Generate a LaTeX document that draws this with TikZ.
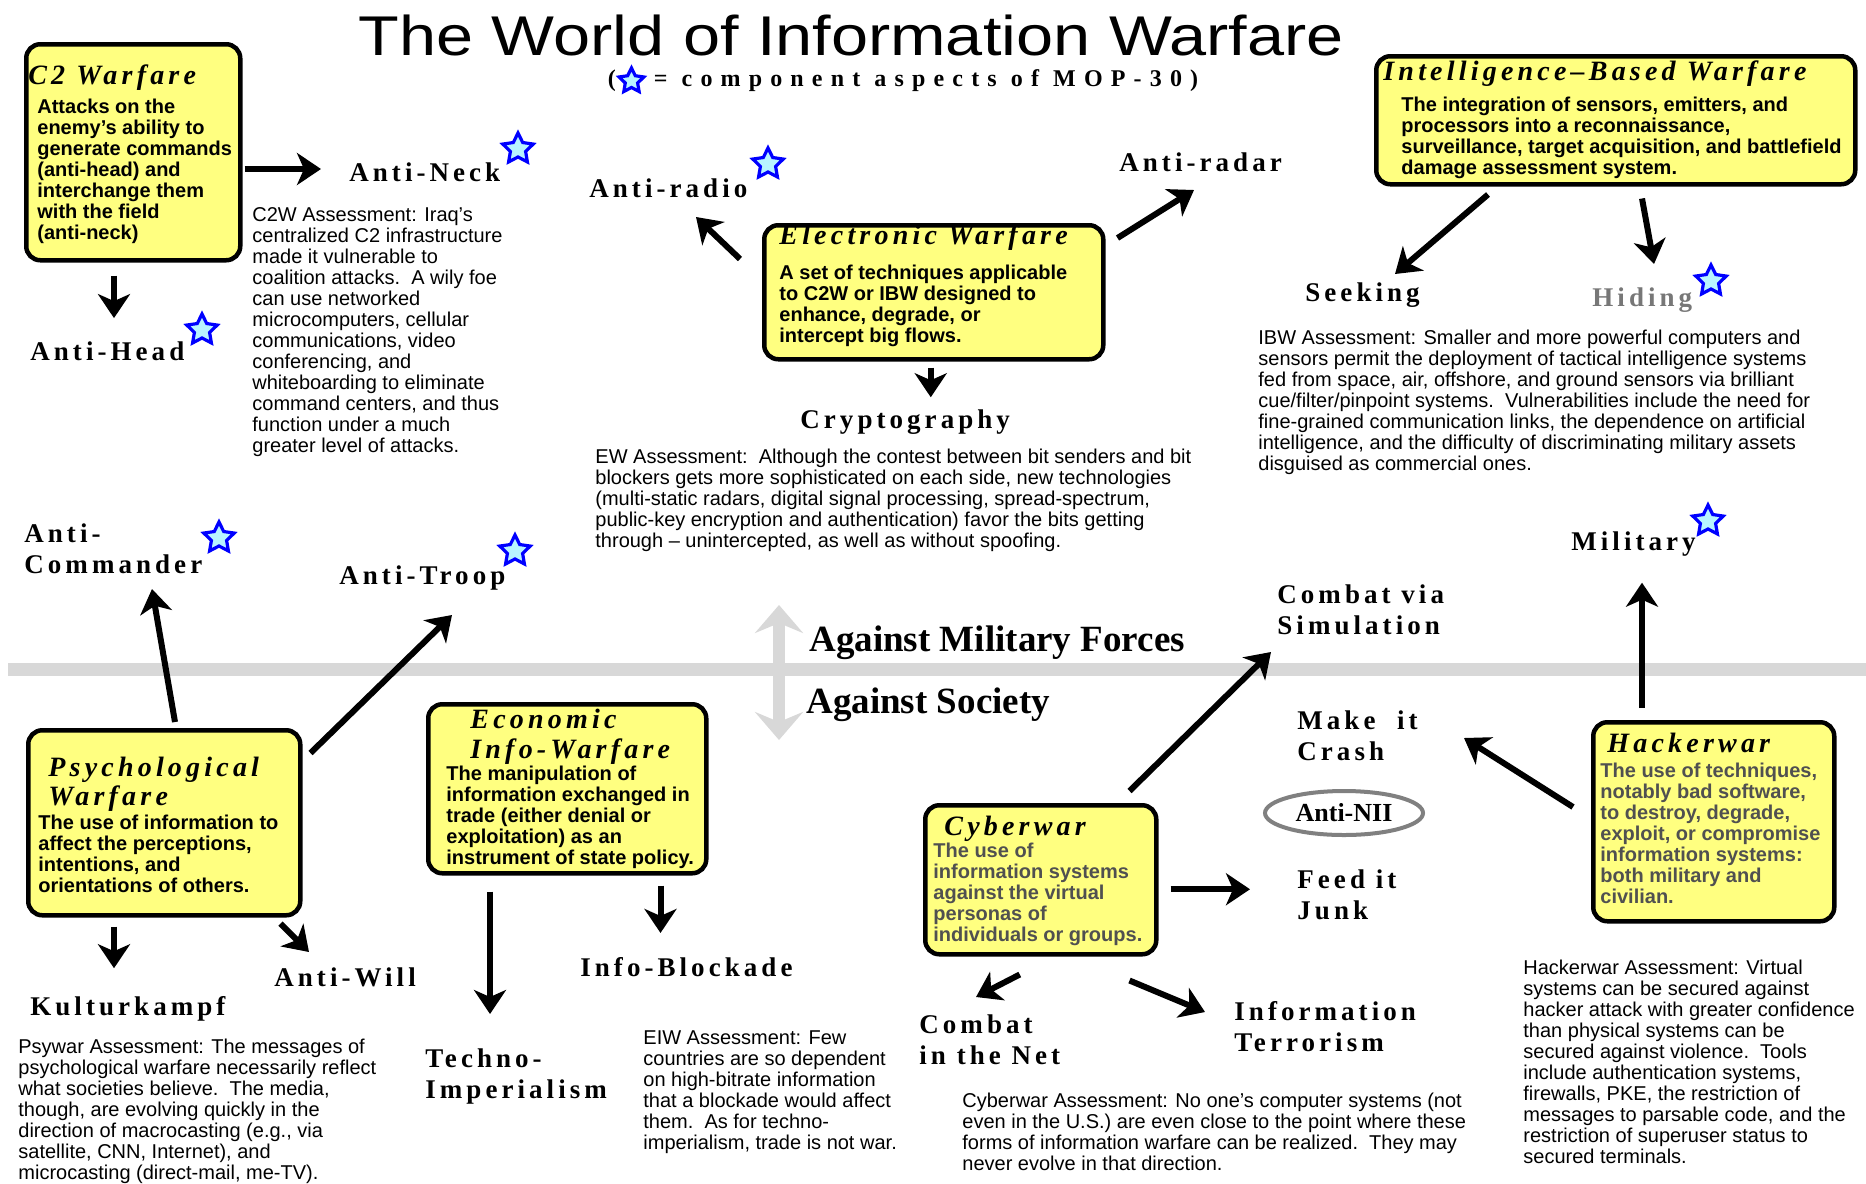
\documentclass[tikz,border=0pt]{standalone}
\usepackage{fontspec}
\setmainfont{Liberation Sans}
\newfontfamily\labfont[LetterSpace=15]{Liberation Serif}
\newfontfamily\niifont{Liberation Serif}
\newfontfamily\boxtfont[LetterSpace=15]{Liberation Serif}
\newfontfamily\subfont[LetterSpace=34]{Liberation Serif}
\newfontfamily\bigtitlefont[FakeStretch=1.19]{Liberation Sans}
\usetikzlibrary{arrows.meta,shapes.geometric,calc}
\definecolor{boxyellow}{HTML}{FFFF80}
\definecolor{starcyan}{HTML}{B8F4FF}
\definecolor{bandgray}{HTML}{D8D8D8}
\definecolor{softgray}{HTML}{505050}
\definecolor{hidegray}{HTML}{777777}
\begin{document}
\begin{tikzpicture}[x=0.5pt,y=-0.5pt,
  wbox/.style={draw=black, line width=2.25pt, fill=boxyellow, rounded corners=7pt, anchor=north west, inner sep=0},
  btitle/.style={font=\boxtfont\bfseries\itshape\fontsize{14}{14.5}\selectfont, inner sep=0, align=left},
  bbody/.style={font=\bfseries\fontsize{10}{10.5}\selectfont, inner sep=0, align=left, anchor=north west},
  assess/.style={font=\fontsize{10}{10.5}\selectfont, inner sep=0, align=left, anchor=north west},
  lab/.style={font=\labfont\bfseries\fontsize{13.5}{15.5}\selectfont, inner sep=0, align=left},
  comp/.style={star, star points=5, star point ratio=2, draw=blue, fill=starcyan, line width=1.6pt, minimum size=16pt, inner sep=0},
  arr/.style={draw=black, line width=3pt, -{Stealth[length=12pt,width=16pt,inset=3.5pt]}},
  sidelab/.style={font=\niifont\bfseries\fontsize{18.5}{20}\selectfont, anchor=west, inner sep=0},
]
\fill[white] (0,0) rectangle (1866,1183);
\useasboundingbox (0,0) rectangle (1866,1183);

% band and double arrow
\coordinate (bandL) at (8,669);
\coordinate (bandR) at (1866,669);
\draw[line width=6.5pt, bandgray] (bandL) -- (bandR);
\coordinate (dtop) at (779,605);
\coordinate (dbot) at (779,740);
\draw[line width=6pt, draw=bandgray, {Stealth[length=14pt,width=24pt,inset=5pt]}-{Stealth[length=14pt,width=24pt,inset=5pt]}] (dtop) -- (dbot);
\node[sidelab] (amf) at (809,643) {Against Military Forces};
\node[sidelab] (aso) at (806,705) {Against Society};

% title
\node[font=\bigtitlefont\fontsize{28}{30}\selectfont, anchor=base, inner sep=0] (title) at (851,55) {The World of Information Warfare};
\node[font=\subfont\bfseries\fontsize{12}{13}\selectfont, inner sep=0] (subtitle) at (903,81) {(\hspace{19pt}= component aspects of MOP-30)};
\node[comp, minimum size=13pt] (substar) at ($(subtitle.west)+(24,0)$) {};

% boxes
\node[wbox, minimum width=107pt, minimum height=108pt] (c2) at (24,42) {};
\node[wbox, minimum width=169.5pt, minimum height=67pt] (ew) at (762,223) {};
\node[wbox, minimum width=239.5pt, minimum height=64pt] (ibw) at (1374,54) {};
\node[wbox, minimum width=136pt, minimum height=92.5pt] (psy) at (26,728) {};
\node[wbox, minimum width=139pt, minimum height=84.5pt] (eco) at (426,702) {};
\node[wbox, minimum width=115.5pt, minimum height=74.5pt] (cyb) at (923,803) {};
\node[wbox, minimum width=120.5pt, minimum height=99.5pt] (hck) at (1591,720) {};

% box titles
\node[btitle, anchor=west] (c2t) at (28,78) {C2 Warfare};
\node[btitle, anchor=west] (ewt) at (779,238) {Electronic Warfare};
\node[btitle, anchor=west] (ibwt) at (1383,74) {Intelligence–Based Warfare};
\node[btitle, anchor=north west] (psyt) at (48,757) {Psychological\\Warfare};
\node[btitle, anchor=north west, font=\boxtfont\bfseries\itshape\fontsize{14}{15}\selectfont] (ecot) at (470,709) {Economic\\Info-Warfare};
\node[btitle, anchor=west] (cybt) at (944,829) {Cyberwar};
\node[btitle, anchor=west] (hckt) at (1607,743) {Hackerwar};

% box bodies
\node[bbody] (c2b) at (37,99) {Attacks on the\\enemy's ability to\\generate commands\\(anti-head) and\\interchange them\\with the field\\(anti-neck)};
\node[bbody] (ewb) at (779,265) {A set of techniques applicable\\to C2W or IBW designed to\\enhance, degrade, or\\intercept big flows.};
\node[bbody] (ibwb) at (1401,97) {The integration of sensors, emitters, and\\processors into a reconnaissance,\\surveillance, target acquisition, and battlefield\\damage assessment system.};
\node[bbody] (psyb) at (38,815) {The use of information to\\affect the perceptions,\\intentions, and\\orientations of others.};
\node[bbody] (ecob) at (446,766) {The manipulation of\\information exchanged in\\trade (either denial or\\exploitation) as an\\instrument of state policy.};
\node[bbody, text=softgray] (cybb) at (933,843) {The use of\\information systems\\against the virtual\\personas of\\individuals or groups.};
\node[bbody, text=softgray] (hckb) at (1600,763) {The use of techniques,\\notably bad software,\\to destroy, degrade,\\exploit, or compromise\\information systems:\\both military and\\civilian.};

% assessments
\node[assess] (c2wa) at (252,207) {C2W Assessment: Iraq's\\centralized C2 infrastructure\\made it vulnerable to\\coalition attacks.\ \ A wily foe\\can use networked\\microcomputers, cellular\\communications, video\\conferencing, and\\whiteboarding to eliminate\\command centers, and thus\\function under a much\\greater level of attacks.};
\node[assess] (ewa) at (595,449) {EW Assessment:\ \ Although the contest between bit senders and bit\\blockers gets more sophisticated on each side, new technologies\\(multi-static radars, digital signal processing, spread-spectrum,\\public-key encryption and authentication) favor the bits getting\\through – unintercepted, as well as without spoofing.};
\node[assess] (ibwa) at (1258,330) {IBW Assessment: Smaller and more powerful computers and\\sensors permit the deployment of tactical intelligence systems\\fed from space, air, offshore, and ground sensors via brilliant\\cue/filter/pinpoint systems.\ \ Vulnerabilities include the need for\\fine-grained communication links, the dependence on artificial\\intelligence, and the difficulty of discriminating military assets\\disguised as commercial ones.};
\node[assess] (psya) at (18,1039) {Psywar Assessment: The messages of\\psychological warfare necessarily reflect\\what societies believe.\ \ The media,\\though, are evolving quickly in the\\direction of macrocasting (e.g., via\\satellite, CNN, Internet), and\\microcasting (direct-mail, me-TV).};
\node[assess] (eiwa) at (643,1030) {EIW Assessment: Few\\countries are so dependent\\on high-bitrate information\\that a blockade would affect\\them.\ \ As for techno-\\imperialism, trade is not war.};
\node[assess] (cyba) at (962,1093) {Cyberwar Assessment: No one's computer systems (not\\even in the U.S.) are even close to the point where these\\forms of information warfare can be realized.\ \ They may\\never evolve in that direction.};
\node[assess] (hcka) at (1523,960) {Hackerwar Assessment: Virtual\\systems can be secured against\\hacker attack with greater confidence\\than physical systems can be\\secured against violence.\ \ Tools\\include authentication systems,\\firewalls, PKE, the restriction of\\messages to parsable code, and the\\restriction of superuser status to\\secured terminals.};

% labels
\node[lab, anchor=west] (antineck) at (349,172) {Anti-Neck};
\node[lab, anchor=west] (antihead) at (30,351) {Anti-Head};
\node[lab, anchor=west] (antiradio) at (589,188) {Anti-radio};
\node[lab, anchor=west] (antiradar) at (1119,162) {Anti-radar};
\node[lab, anchor=west] (crypto) at (800,422) {Cryptography};
\node[lab, anchor=west] (seeking) at (1305,295) {Seeking};
\node[lab, anchor=west, text=hidegray] (hiding) at (1592,300) {Hiding};
\node[lab, anchor=north west] (anticmd) at (24,523) {Anti-\\Commander};
\node[lab, anchor=west] (antitroop) at (339,578) {Anti-Troop};
\node[lab, anchor=west] (military) at (1571,544) {Military};
\node[lab, anchor=west] (kultur) at (30,1009) {Kulturkampf};
\node[lab, anchor=west] (antiwill) at (274,977) {Anti-Will};
\node[lab, anchor=north west] (techno) at (425,1048) {Techno-\\Imperialism};
\node[lab, anchor=west] (infoblk) at (580,967) {Info-Blockade};
\node[lab, anchor=north west] (combatsim) at (1277,584) {Combat via\\Simulation};
\node[lab, anchor=north west] (makecrash) at (1297,710) {Make\ \ it\\Crash};
\node[ellipse, draw=gray, line width=2pt, minimum width=79pt, minimum height=22pt, font=\niifont\bfseries\fontsize{13}{14}\selectfont, inner sep=0] (antinii) at (1344,813) {Anti-NII};
\node[lab, anchor=north west] (feedjunk) at (1297,869) {Feed it\\Junk};
\node[lab, anchor=north west] (combatnet) at (919,1014) {Combat\\in the Net};
\node[lab, anchor=north west] (infoterror) at (1234,1001) {Information\\Terrorism};

% stars
\node[comp] (s1) at (518,149) {};
\node[comp] (s2) at (202,330) {};
\node[comp] (s3) at (768,164) {};
\node[comp] (s4) at (1711,281) {};
\node[comp] (s5) at (219,538) {};
\node[comp] (s6) at (515,551) {};
\node[comp] (s7) at (1708,521) {};

% arrows
\coordinate (a1) at ($(c2.north east)+(2,127)$);
\draw[arr, shorten >=14pt] (a1) -- (a1 -| antineck.west);
\coordinate (a2) at ($(c2.south west)+(90,13)$);
\draw[arr, shorten >=11.5pt] (a2) -- (a2 |- antihead.north);
\draw[arr] ($(ew.north west)+(-22,36)$) -- ($(antiradio.west)+(107,29)$);
\draw[arr] ($(ew.north east)+(12,15)$) -- ($(antiradar.west)+(75,28)$);
\coordinate (a5) at ($(ew.south)+(-3,6)$);
\draw[arr, shorten >=6pt] (a5) -- (a5 |- crypto.north);
\draw[arr] ($(ibw.south west)+(114,8)$) -- ($(seeking.west)+(90,-21)$);
\draw[arr] ($(ibw.south west)+(268,12)$) -- ($(hiding.west)+(62,-36)$);
\draw[arr] ($(psy.north west)+(149,-6)$) -- ($(anticmd.north west)+(128,66)$);
\draw[arr] ($(psy.north east)+(8,25)$) -- ($(antitroop.west)+(113,37)$);
\coordinate (a10) at ($(psy.south west)+(88,9)$);
\draw[arr, shorten >=14pt] (a10) -- (a10 |- kultur.north);
\draw[arr] ($(psy.south east)+(-22,6)$) -- ($(antiwill.west)+(35,-25)$);
\coordinate (a12) at ($(eco.south west)+(64,16)$);
\draw[arr, shorten >=17pt] (a12) -- (a12 |- techno.north);
\coordinate (a13) at ($(eco.south east)+(-48,10)$);
\draw[arr, shorten >=12pt] (a13) -- (a13 |- infoblk.north);
\draw[arr] ($(cyb.north east)+(-29,-12)$) -- ($(combatsim.north west)+(-6,68)$);
\coordinate (a15) at ($(cyb.east)+(12,9.5)$);
\draw[arr, shorten >=23.5pt] (a15) -- (a15 -| feedjunk.west);
\draw[arr] ($(cyb.south)+(-21,18)$) -- ($(combatnet.north west)+(57,-17)$);
\draw[arr] ($(cyb.south east)+(-29,24)$) -- ($(infoterror.north west)+(-29,11)$);
\coordinate (a18) at ($(hck.north west)+(51,-12)$);
\draw[arr, shorten >=13pt] (a18) -- (a18 |- military.south);
\draw[arr] ($(hck.north west)+(-18,87)$) -- ($(makecrash.north west)+(167,28)$);
\end{tikzpicture}
\end{document}
